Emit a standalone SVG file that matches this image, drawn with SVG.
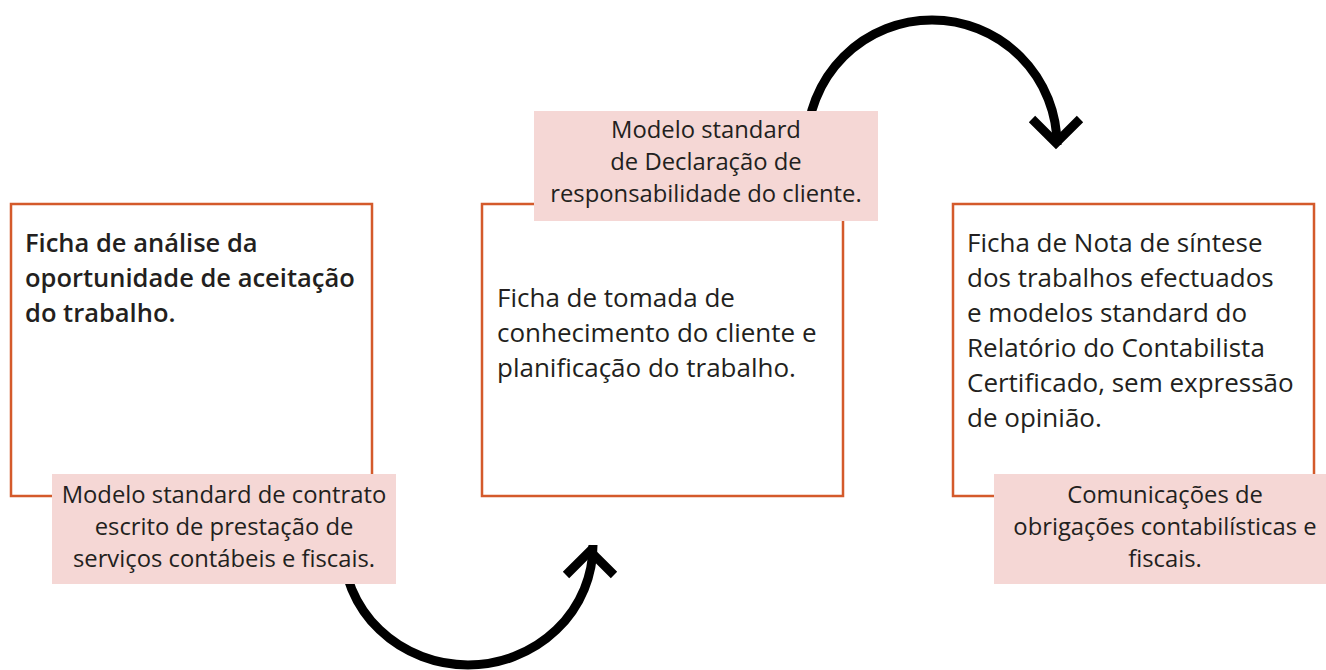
<svg xmlns="http://www.w3.org/2000/svg" width="1326" height="670" viewBox="0 0 1326 670">
<style>
.box{fill:#ffffff;stroke:#d45a2b;stroke-width:2.5}
.lbl{fill:#f5d7d5}
.t{font-family:"Open Sans","Noto Sans","Liberation Sans",sans-serif;font-size:26px;fill:#231f20}
.tb{font-weight:600;font-size:25.5px}
.l{font-family:"Open Sans","Noto Sans","Liberation Sans",sans-serif;font-size:23.8px;fill:#231f20;text-anchor:middle}
.arc{fill:none;stroke:#000000;stroke-width:9}
</style>
<rect width="1326" height="670" fill="#ffffff"/>
<g id="connectors">
<path class="arc" d="M807,145 A125,125 0 0 1 1057,145"/>
<path class="arc" d="M1032,119 L1056,143 L1080,119" stroke-linejoin="miter"/>
<path class="arc" d="M343,545 A125,120 0 0 0 593,545"/>
<path class="arc" d="M566,575 L590,551 L614,575" stroke-linejoin="miter"/>
</g>
<g id="node1">
<rect class="box" x="11" y="204" width="361" height="292"/>
<text class="t tb" x="25" y="252">Ficha de análise da</text>
<text class="t tb" x="25" y="287">oportunidade de aceitação</text>
<text class="t tb" x="25" y="322">do trabalho.</text>
</g>
<g id="label1">
<rect class="lbl" x="52" y="474" width="344" height="110"/>
<text class="l" x="224" y="503">Modelo standard de contrato</text>
<text class="l" x="224" y="535">escrito de prestação de</text>
<text class="l" x="224" y="567">serviços contábeis e fiscais.</text>
</g>
<g id="node2">
<rect class="box" x="482" y="204" width="361" height="292"/>
<text class="t" x="497" y="307">Ficha de tomada de</text>
<text class="t" x="497" y="342">conhecimento do cliente e</text>
<text class="t" x="497" y="377">planificação do trabalho.</text>
</g>
<g id="label2">
<rect class="lbl" x="534" y="111" width="344" height="110"/>
<text class="l" x="706" y="138">Modelo standard</text>
<text class="l" x="706" y="170">de Declaração de</text>
<text class="l" x="706" y="202">responsabilidade do cliente.</text>
</g>
<g id="node3">
<rect class="box" x="953" y="204" width="361" height="292"/>
<text class="t" x="967" y="252">Ficha de Nota de síntese</text>
<text class="t" x="967" y="287">dos trabalhos efectuados</text>
<text class="t" x="967" y="322">e modelos standard do</text>
<text class="t" x="967" y="357">Relatório do Contabilista</text>
<text class="t" x="967" y="392">Certificado, sem expressão</text>
<text class="t" x="967" y="427">de opinião.</text>
</g>
<g id="label3">
<rect class="lbl" x="994" y="474" width="332" height="110"/>
<text class="l" x="1165" y="503">Comunicações de</text>
<text class="l" x="1165" y="535">obrigações contabilísticas e</text>
<text class="l" x="1165" y="567">fiscais.</text>
</g>
</svg>
